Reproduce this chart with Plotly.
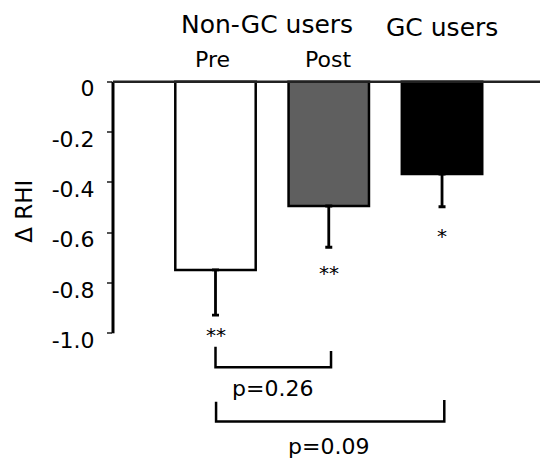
import plotly.graph_objects as go

# Change in RHI by group
groups = [1, 2, 3]
group_names = ["Pre", "Post", "GC users"]
delta_rhi = [-0.748, -0.494, -0.367]
sem = [0.18, 0.164, 0.13]
bar_colors = ["#ffffff", "#5f5f5f", "#000000"]
stars = ["**", "**", "*"]
star_y = [-1.005, -0.762, -0.612]

tick_vals = [0, -0.2, -0.4, -0.6, -0.8, -1.0]
tick_text = ["0", "-0.2", "-0.4", "-0.6", "-0.8", "-1.0"]

FONT = "DejaVu Sans"

fig = go.Figure()
fig.add_trace(go.Bar(
    x=groups, y=delta_rhi, base=0, width=0.71,
    marker=dict(color=bar_colors, line=dict(color="black", width=2.5)),
    error_y=dict(type="data", symmetric=False, array=[0, 0, 0], arrayminus=sem,
                 color="black", thickness=2.8, width=3.5),
    showlegend=False, hoverinfo="skip",
))

shapes = [
    # y axis line from 0 to -1.0
    dict(type="line", xref="paper", yref="y", x0=0, x1=0, y0=0, y1=-1.0,
         line=dict(color="black", width=3)),
    # zero line
    dict(type="line", xref="paper", yref="y", x0=0, x1=1, y0=0, y1=0,
         line=dict(color="#222222", width=2.5)),
]

# significance brackets: (x_left, x_right, y_left_top, y_right_top, y_bottom)
brackets = [
    (1.0, 2.02, -1.053, -1.070, -1.135),
    (1.005, 3.02, -1.272, -1.265, -1.351),
]
for xl, xr, ylt, yrt, yb in brackets:
    shapes.append(dict(type="path", xref="x", yref="y",
                       path=f"M {xl},{ylt} L {xl},{yb} L {xr},{yb} L {xr},{yrt}",
                       line=dict(color="black", width=2.5)))

def label(text, x, y, size, xref="x", yref="y", **kw):
    return dict(x=x, y=y, xref=xref, yref=yref, text=text, showarrow=False,
                xanchor="center", yanchor="middle",
                font=dict(family=FONT, size=size, color="black"), **kw)

annotations = [label(s, g, sy, 20) for g, s, sy in zip(groups, stars, star_y)]

annotations += [
    label("p=0.26", 1.5, -1.219, 22),
    label("p=0.09", 2.0, -1.451, 22),
    # group headers above the plot area
    label("Non-GC users", 1.455, 1.115, 25, yref="paper"),
    label(group_names[2], 3.0, 1.108, 25, yref="paper"),
    label(group_names[0], 0.97, 1.028, 22, yref="paper"),
    label(group_names[1], 1.99, 1.028, 22, yref="paper"),
    label("Δ RHI", -0.2084, -0.517, 23, xref="paper", textangle=-90),
]

fig.update_layout(
    width=540, height=462,
    margin=dict(l=113, r=0, t=70, b=0),
    paper_bgcolor="white", plot_bgcolor="white",
    shapes=shapes, annotations=annotations,
    xaxis=dict(range=[0.095, 3.865], showgrid=False, zeroline=False, showline=False,
               showticklabels=False, ticks=""),
    yaxis=dict(range=[-1.5115, 0.0465], showgrid=False, zeroline=False, showline=False,
               tickvals=tick_vals, ticktext=tick_text, ticks="outside", ticklen=5,
               tickwidth=1.5, tickcolor="#555555", ticklabelshift=7,
               ticklabelstandoff=8,
               tickfont=dict(family=FONT, size=22, color="black")),
)

fig.write_html("out.html")
